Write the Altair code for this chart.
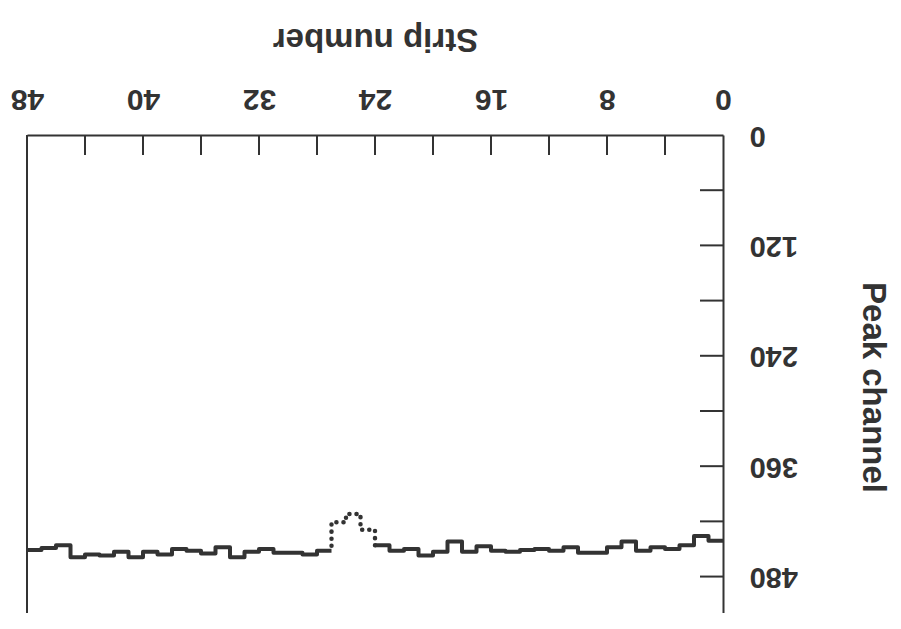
import altair as alt
import pandas as pd

# ---- data ----
strips = list(range(48))
peak = [441, 436, 446, 450, 448, 452, 442, 448, 454, 454,
        448, 452, 450, 451, 453, 452, 447, 453, 442, 453,
        457, 450, 452, 446, 429, 412, 421, 452, 456, 454,
        454, 450, 453, 459, 448, 455, 452, 450, 456, 453,
        459, 453, 457, 456, 459, 446, 449, 451]
dotted_strips = [24, 25, 26]          # strips drawn with dots
x_label_values = [0, 8, 16, 24, 32, 40, 48]
x_tick_values = [4, 8, 12, 16, 20, 24, 28, 32, 36, 40, 44]
y_label_values = [0, 120, 240, 360, 480]
y_tick_values = [60, 120, 180, 240, 300, 360, 420, 480]
x_title = "Strip number"
y_title = "Peak channel"

INK = "#333333"
FONT = "Liberation Sans"
W, H = 696, 478
YMAX = 519.6

# ---- build tables ----
rows = []
o = 0
for s in range(0, 24):
    rows.append({"strip": s, "ch": peak[s], "seg": "a", "ord": o}); o += 1
rows.append({"strip": 24, "ch": peak[23], "seg": "a", "ord": o}); o += 1
for s in range(27, 48):
    rows.append({"strip": s, "ch": peak[s], "seg": "b", "ord": o}); o += 1
rows.append({"strip": 48, "ch": peak[47], "seg": "b", "ord": o}); o += 1
solid_df = pd.DataFrame(rows)

drows = [{"strip": dotted_strips[0], "ch": peak[dotted_strips[0] - 1], "ord": 0}]
k = 1
for s in dotted_strips:
    drows.append({"strip": s, "ch": peak[s], "ord": k}); k += 1
end = dotted_strips[-1] + 1
drows.append({"strip": end, "ch": peak[end], "ord": k})
dot_df = pd.DataFrame(drows)

x_scale = alt.Scale(domain=[0, 48], reverse=True, nice=False, zero=False)
y_scale = alt.Scale(domain=[0, YMAX], reverse=True, nice=False, zero=False)

x_axis = alt.Axis(
    orient="top", values=x_label_values, title=x_title, grid=False,
    ticks=False, tickSize=0, domain=True, domainColor=INK, domainWidth=2,
    labelAngle=180, labelAlign="center", labelBaseline="middle",
    labelPadding=37, labelFontSize=30, labelFont=FONT, labelFontWeight="bold",
    labelColor=INK, labelFlush=False, labelOverlap=False, labelBound=False,
    titleAngle=180, titleX=W / 2, titleY=-97, titleAlign="center",
    titleBaseline="middle", titleFontSize=33, titleFont=FONT,
    titleFontWeight="bold", titleColor=INK,
)
y_axis = alt.Axis(
    orient="right", values=y_label_values, title=y_title, grid=False,
    ticks=False, tickSize=0, domain=True, domainColor=INK, domainWidth=2,
    labelAngle=180, labelAlign="right", labelBaseline="middle",
    labelPadding=26, labelFontSize=29, labelFont=FONT, labelFontWeight="bold",
    labelColor=INK, labelFlush=False, labelOverlap=False, labelBound=False,
    titleAngle=90, titleX=149, titleY=252, titleAlign="center",
    titleBaseline="middle", titleFontSize=33, titleFont=FONT,
    titleFontWeight="bold", titleColor=INK,
)

solid = alt.Chart(solid_df).mark_line(
    interpolate="step-after", color=INK, strokeWidth=4, strokeJoin="round"
).encode(
    x=alt.X("strip:Q", scale=x_scale, axis=x_axis),
    y=alt.Y("ch:Q", scale=y_scale, axis=y_axis),
    detail="seg:N",
    order="ord:Q",
)

dotted = alt.Chart(dot_df).mark_line(
    interpolate="step-after", color=INK, strokeWidth=4.5,
    strokeDash=[0.1, 7], strokeCap="round"
).encode(
    x=alt.X("strip:Q"),
    y=alt.Y("ch:Q"),
    order="ord:Q",
)

xticks = alt.Chart(pd.DataFrame({"strip": x_tick_values})).mark_rule(
    color=INK, strokeWidth=2
).encode(
    x=alt.X("strip:Q"),
    y=alt.value(0), y2=alt.value(20),
)

yticks = alt.Chart(pd.DataFrame({"ch": y_tick_values})).mark_rule(
    color=INK, strokeWidth=2
).encode(
    y=alt.Y("ch:Q"),
    x=alt.value(W - 23), x2=alt.value(W),
)

left_border = alt.Chart(pd.DataFrame({"strip": [48]})).mark_rule(
    color=INK, strokeWidth=2
).encode(
    x=alt.X("strip:Q"),
    y=alt.value(0), y2=alt.value(H),
)

chart = alt.layer(solid, dotted, xticks, yticks, left_border).properties(
    width=W, height=H,
    autosize=alt.AutoSizeParams(type="none"),
    padding={"left": 19, "top": 127, "right": 170, "bottom": 0},
    background="white",
).configure_view(stroke=None)

chart.save("out.html", embed_options={"renderer": "svg", "actions": False})
